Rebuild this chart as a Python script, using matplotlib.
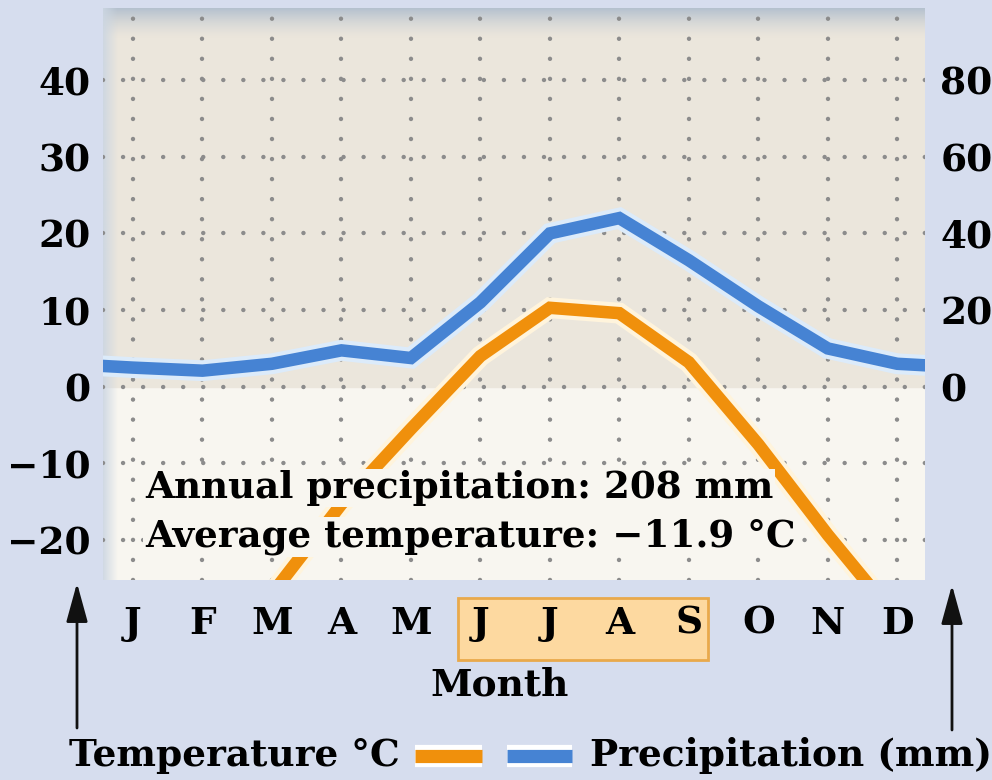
import numpy as np
import matplotlib.pyplot as plt
import matplotlib.patheffects as pe
from matplotlib.patches import Rectangle
from matplotlib.lines import Line2D

# Climate diagram data
months = ['J', 'F', 'M', 'A', 'M', 'J', 'J', 'A', 'S', 'O', 'N', 'D']
temperature = [-32, -33, -27, -15.3, -5.5, 4.0, 10.3, 9.6, 3.2, -7.5, -19.3, -30.3]   # deg C
precipitation = [5, 4.2, 6, 9.5, 7.5, 22, 40, 44, 33, 21, 10, 6]                     # mm
temp_ticks = [-20, -10, 0, 10, 20, 30, 40]
precip_ticks = [0, 20, 40, 60, 80]
summer = (5, 8)   # J J A S highlighted

annual_precip = 208
avg_temp = -11.9

bg = '#d6ddee'
beige = '#ebe6dc'
cream = '#f8f6f0'
blue = '#4683d3'
orange = '#f0900c'
font = 'DejaVu Serif'
fs = 27

plt.rcParams['font.family'] = font
plt.rcParams['font.weight'] = 'bold'
plt.rcParams['axes.labelweight'] = 'bold'

fig = plt.figure(figsize=(9.92, 7.8), dpi=100, facecolor=bg)
ax = fig.add_axes([103/992, 1 - 580/780, 822/992, 572/780])
ax.set_facecolor(cream)

tmin, tmax = -25.2, 49.4
ax.axhspan(0, tmax, color=beige, zorder=0)

# shading at the top and left edge of the panel
top = np.zeros((40, 2, 4))
top[..., :3] = np.array([0.70, 0.75, 0.81])
top[..., 3] = np.linspace(1, 0, 40)[:, None] ** 1.5
ax.imshow(top, extent=(0, 1, 0.945, 1), transform=ax.transAxes, aspect='auto', zorder=0.5)
left = np.zeros((2, 40, 4))
left[..., :3] = np.array([0.80, 0.84, 0.89])
left[..., 3] = np.linspace(0.9, 0, 40)[None, :]
ax.imshow(left, extent=(0, 0.018, 0, 1), transform=ax.transAxes, aspect='auto', zorder=0.5)

x = np.arange(len(months))
dots = (0, (0.01, 4.5))
for m in x:
    ax.axvline(m, color='#8c8c8c', lw=3.2, ls=dots, dash_capstyle='round', zorder=1)
for t in temp_ticks:
    ax.axhline(t, color='#8c8c8c', lw=3.2, ls=dots, dash_capstyle='round', zorder=1)

halo = lambda c: [pe.Stroke(linewidth=15, foreground=c), pe.Normal()]

# temperature, wrapped round the year so the line runs to the panel edges
xt = np.concatenate([[-1], x, [12]])
tt = np.concatenate([[temperature[-1]], temperature, [temperature[0]]])
ax.plot(xt, tt, color=orange, lw=9, solid_joinstyle='miter', zorder=3,
        path_effects=halo('#fff4dc'))

ax.set_xlim(-0.432, 11.40)
ax.set_ylim(tmin, tmax)
ax.set_yticks(temp_ticks)
ax.set_yticklabels([str(t).replace('-', '\u2212') for t in temp_ticks])
ax.set_xticks(x)
ax.set_xticklabels(months)
ax.tick_params(length=0, labelsize=fs, pad=18, axis='x')
ax.tick_params(length=0, labelsize=fs, pad=9, axis='y')
for s in ax.spines.values():
    s.set_visible(False)

ax2 = ax.twinx()
ax2.set_ylim(2 * tmin, 2 * tmax)
ax2.set_yticks(precip_ticks)
ax2.tick_params(length=0, labelsize=fs, pad=11)
for s in ax2.spines.values():
    s.set_visible(False)
xp = np.concatenate([[-1], x, [12]])
pp = np.concatenate([[precipitation[-1]], precipitation, [precipitation[0]]])
ax2.plot(xp, pp, color=blue, lw=9, solid_joinstyle='miter', zorder=3,
         path_effects=halo('#dcebfa'))

note = dict(fontsize=26.8, va='center', ha='left', zorder=5,
            transform=ax2.get_yaxis_transform(),
            bbox=dict(facecolor=cream, edgecolor='none', pad=1))
ax2.text(0.051, -13.2 * 2, f'Annual precipitation: {annual_precip} mm', **note)
ax2.text(0.051, -19.6 * 2, f'Average temperature: \u2212{abs(avg_temp)} \u00b0C', **note)

# highlighted summer months
ax.add_patch(Rectangle((summer[0] - 0.32, -0.14), summer[1] - summer[0] + 0.59, 0.109,
                       transform=ax.get_xaxis_transform(), clip_on=False,
                       facecolor='#fdd9a0', edgecolor='#e9a94b', lw=2, zorder=0))

ax.set_xlabel('Month', fontsize=fs)
ax.xaxis.set_label_coords(0.483, -0.152)

# arrows and key
arrow = dict(arrowstyle='-|>,head_length=0.8,head_width=0.22', lw=2, color='#111111',
             mutation_scale=30, shrinkA=0, shrinkB=0)
ax.annotate('', xy=(77/992, 1 - 583/780), xytext=(77/992, 1 - 728/780),
            xycoords='figure fraction', arrowprops=arrow)
ax.annotate('', xy=(952/992, 1 - 585/780), xytext=(952/992, 1 - 730/780),
            xycoords='figure fraction', arrowprops=arrow)

fig.text(400/992, 1 - 755/780, 'Temperature \u00b0C', fontsize=fs, ha='right', va='center')
fig.text(590/992, 1 - 755/780, 'Precipitation (mm)', fontsize=fs, ha='left', va='center')
for (x0, x1), c in [((415, 482), orange), ((507, 572), blue)]:
    fig.add_artist(Line2D([x0/992, x1/992], [1 - 756/780] * 2, transform=fig.transFigure,
                          color=c, lw=9.5, solid_capstyle='butt',
                          path_effects=[pe.Stroke(linewidth=16, foreground='white'), pe.Normal()]))

fig.savefig('out.png', dpi=100, facecolor=bg)
